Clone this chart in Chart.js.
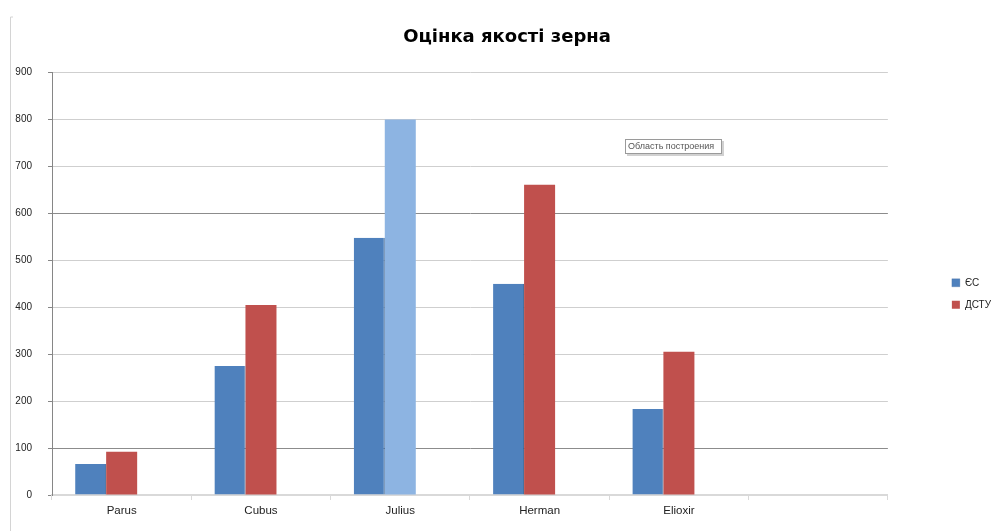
<!DOCTYPE html>
<html>
<head>
<meta charset="utf-8">
<script src="https://cdn.jsdelivr.net/npm/chart.js@4.4.0/dist/chart.umd.min.js"></script>
<style>
    html, body { margin: 0; padding: 0; background: #ffffff; }
    #chart-container { width: 991px; height: 531px; position: relative; }
</style>
</head>
<body>
<div id="chart-container">
    <canvas id="myChart" width="991" height="531"></canvas>
</div>
<script>
// Categorias (a última fica vazia, como no original)
var categories = ['Parus', 'Cubus', 'Julius', 'Herman', 'Elioxir', ''];

// Séries
var seriesNames = ['ЄС', 'ДСТУ'];
var valuesES = [66, 275, 548, 450, 183, null];
var valuesDSTU = [92, 405, 800, 661, 305, null];
var valuesEmpty = [null, null, null, null, null, null]; // terceira série vazia (ocupa espaço)

// Ticks do eixo Y
var yTicks = [0, 100, 200, 300, 400, 500, 600, 700, 800, 900];

var titleText = 'Оцінка якості зерна';
var noteText = 'Область построения';

var blue = '#4F81BD';
var red = '#C0504D';
var lightBlue = '#8DB4E2';

// cor do ДСТУ por barra (Julius está destacada)
var dstuColors = categories.map(function (c) { return c === 'Julius' ? lightBlue : red; });

// Plugin para a linha à esquerda, o título centrado e a caixinha "Область построения"
var extrasPlugin = {
    id: 'extras',
    afterLayout: function (chart) {
        // centraliza o título como no original (um pouco à direita)
        chart.titleBlock.left = 23;
        chart.titleBlock.right = 991;
    },
    afterDraw: function (chart) {
        var ctx = chart.ctx;
        ctx.save();
        // linha vertical à esquerda
        ctx.strokeStyle = '#d4d4d4';
        ctx.lineWidth = 1;
        ctx.beginPath();
        ctx.moveTo(10.5, 531);
        ctx.lineTo(10.5, 17);
        ctx.lineTo(13, 17);
        ctx.stroke();

        // caixinha com sombra
        var bx = 625, by = 139, bw = 97, bh = 15;
        ctx.fillStyle = 'rgba(0,0,0,0.18)';
        ctx.fillRect(bx + 2, by + 2, bw, bh);
        ctx.fillStyle = '#ffffff';
        ctx.fillRect(bx, by, bw, bh);
        ctx.strokeStyle = '#9a9a9a';
        ctx.strokeRect(bx + 0.5, by + 0.5, bw - 1, bh - 1);
        ctx.fillStyle = '#555555';
        ctx.font = '9px "Liberation Sans", sans-serif';
        ctx.textBaseline = 'middle';
        ctx.fillText(noteText, bx + 3, by + bh / 2 + 0.5);
        ctx.restore();
    }
};

var ctx = document.getElementById('myChart').getContext('2d');
var myChart = new Chart(ctx, {
    type: 'bar',
    data: {
        labels: categories,
        datasets: [{
            label: seriesNames[0],
            data: valuesES,
            backgroundColor: blue,
            borderColor: '#3A6394',
            borderWidth: { right: 1, left: 0, top: 0, bottom: 0 },
            borderSkipped: false
        }, {
            label: seriesNames[1],
            data: valuesDSTU,
            backgroundColor: dstuColors,
            borderWidth: 0
        }, {
            label: '',
            data: valuesEmpty,
            backgroundColor: 'transparent',
            borderWidth: 0
        }]
    },
    options: {
        responsive: false,
        animation: false,
        categoryPercentage: 0.668,
        barPercentage: 1,
        layout: { padding: { left: 0, right: -10, top: 0, bottom: 0 } },
        plugins: {
            tooltip: { enabled: false },
            title: {
                display: true,
                text: titleText,
                color: '#000000',
                font: { family: 'DejaVu Sans', size: 18, weight: 'bold', lineHeight: 1.2 },
                padding: { top: 27, bottom: 24 }
            },
            legend: {
                position: 'right',
                fullSize: false,
                title: {
                    display: true,
                    text: ' ',
                    font: { size: 10, lineHeight: 2 },
                    padding: 0
                },
                labels: {
                    boxWidth: 8,
                    boxHeight: 8,
                    padding: 12,
                    color: '#222222',
                    font: { family: 'Liberation Sans', size: 10 },
                    filter: function (item) { return item.text !== ''; }
                }
            }
        },
        scales: {
            x: {
                grid: {
                    offset: true,
                    drawOnChartArea: false,
                    tickLength: 5,
                    color: '#d9d9d9'
                },
                border: { color: '#d9d9d9', width: 2 },
                ticks: {
                    color: '#222222',
                    padding: 4,
                    font: { family: 'Liberation Sans', size: 11.5 }
                },
                afterFit: function (scale) { scale.height = 36; }
            },
            y: {
                min: yTicks[0],
                max: yTicks[yTicks.length - 1],
                afterBuildTicks: function (scale) {
                    scale.ticks = yTicks.map(function (v) { return { value: v }; });
                },
                grid: {
                    tickLength: 4,
                    tickColor: '#868686',
                    color: function (c) {
                        if (c.tick && (c.tick.value === 100 || c.tick.value === 600)) return '#8c8c8c';
                        return '#cfcfcf';
                    }
                },
                border: { color: '#868686', width: 1 },
                ticks: {
                    color: '#222222',
                    padding: 16,
                    font: { family: 'Liberation Sans', size: 10 }
                },
                afterFit: function (scale) { scale.width = 52; }
            },
            // espaço vazio entre a área do gráfico e a legenda
            gap: {
                type: 'linear',
                position: 'right',
                display: true,
                grid: { display: false, drawTicks: false },
                border: { display: false },
                ticks: { display: false },
                afterFit: function (scale) { scale.width = 52; }
            }
        }
    },
    plugins: [extrasPlugin]
});
</script>
</body>
</html>
